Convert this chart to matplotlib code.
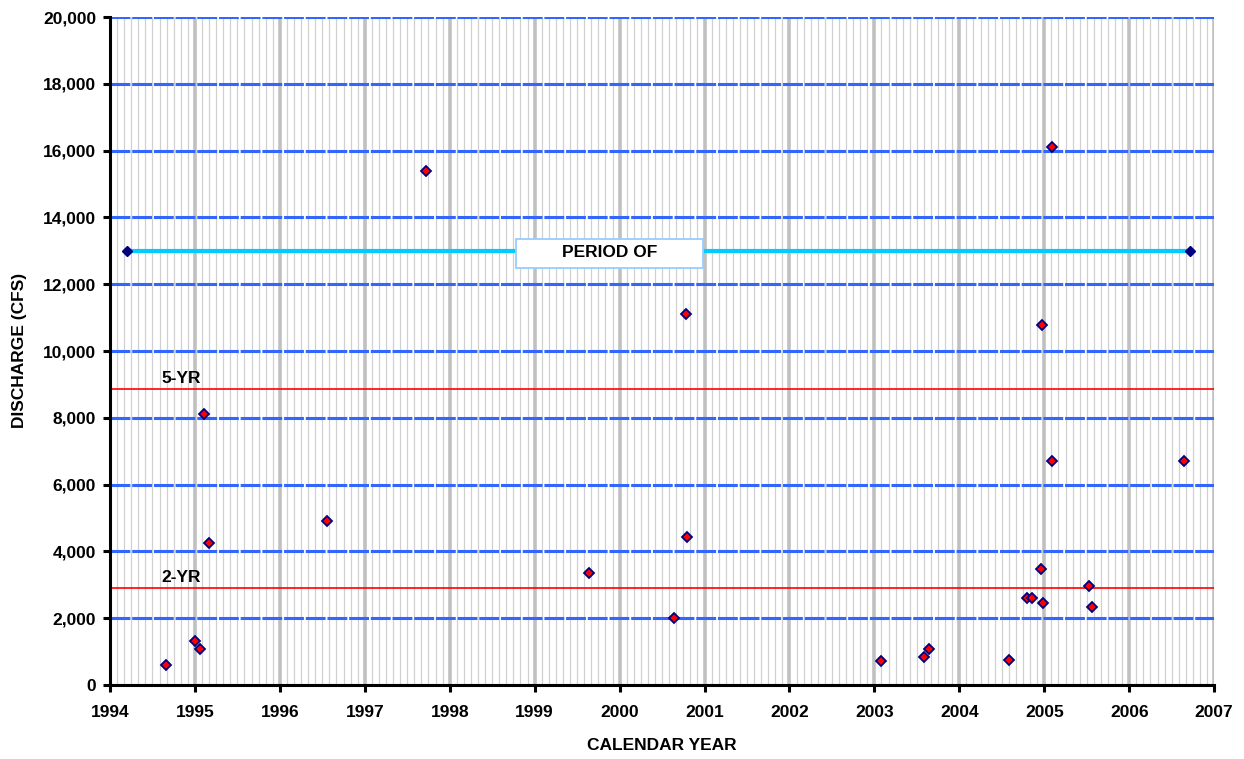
import matplotlib
matplotlib.use("Agg")
import matplotlib.pyplot as plt
from matplotlib.patches import Rectangle
from matplotlib.ticker import FuncFormatter

plt.rcParams['font.family'] = ['Liberation Sans', 'DejaVu Sans']

# Data
years = [1994.66, 1995.00, 1995.06, 1995.11, 1995.17, 1996.55, 1997.72, 1999.64,
         2000.64, 2000.78, 2000.79, 2003.08, 2003.58, 2003.64, 2004.59, 2004.80,
         2004.85, 2004.96, 2004.97, 2004.99, 2005.09, 2005.09, 2005.53, 2005.56,
         2006.65]
discharge = [600, 1330, 1070, 8110, 4260, 4920, 15390, 3360,
             2020, 11100, 4440, 720, 850, 1080, 750, 2600,
             2600, 3470, 10780, 2470, 16100, 6700, 2970, 2350,
             6700]
period_x = [1994.20, 2006.72]
period_y = [13000, 13000]
two_yr = 2900
five_yr = 8850
period_label = "PERIOD OF"
xticks = list(range(1994, 2008))
yticks = list(range(0, 20001, 2000))

FS = 12.5

fig = plt.figure(figsize=(12.44, 7.59), dpi=100)
ax = fig.add_axes([0.0884, 0.0975, 0.8876, 0.880])
ax.set_xlim(1994, 2007)
ax.set_ylim(0, 20000)

# minor monthly grid
for y0 in range(1994, 2007):
    for m in range(1, 12):
        ax.axvline(y0 + m / 12.0, color='#d0d0d0', lw=0.9, zorder=0.5)
# major yearly grid
for xt in xticks:
    ax.axvline(xt, color='#c0c0c0', lw=2.6, zorder=0.6)
# horizontal blue dashed grid
for yt in yticks:
    ax.axhline(yt, color='#3366ff', lw=2.2, dashes=(6.5, 0.6), zorder=0.8)

# return period lines
ax.axhline(two_yr, color='#ff0000', lw=1.2, zorder=1)
ax.axhline(five_yr, color='#ff0000', lw=1.2, zorder=1)
ax.text(1994.61, two_yr + 90, "2-YR", fontsize=FS, fontweight='bold', va='bottom', ha='left')
ax.text(1994.61, five_yr + 90, "5-YR", fontsize=FS, fontweight='bold', va='bottom', ha='left')

# period of record
ax.plot(period_x, period_y, color='#00ccff', lw=3, zorder=2)
ax.plot(period_x, period_y, ls='none', marker='D', ms=5.5, color='#000080', zorder=3)
ax.add_patch(Rectangle((1998.78, 12496), 2.20, 870, fc='white', ec='#99ccff', lw=1.3, zorder=4))
ax.text(1999.88, 12960, period_label, fontsize=FS, fontweight='bold', ha='center', va='center', zorder=5)

# points
ax.plot(years, discharge, ls='none', marker='D', ms=5.2, mfc='#ff0000', mec='#000080', mew=1.3, zorder=6)

ax.set_xticks(xticks)
ax.set_yticks(yticks)
ax.yaxis.set_major_formatter(FuncFormatter(lambda v, p: f"{int(v):,}"))
for lab in ax.get_xticklabels() + ax.get_yticklabels():
    lab.set_fontweight('bold')
ax.tick_params(axis='both', direction='out', length=5, width=2.2, labelsize=FS)
ax.tick_params(axis='x', pad=9.5)
ax.tick_params(axis='y', pad=5)

for s in ['top', 'right']:
    ax.spines[s].set_visible(False)
for s in ['left', 'bottom']:
    ax.spines[s].set_linewidth(2.2)
    ax.spines[s].set_zorder(7)

fig.text(0.532, 1 - 745 / 759, "CALENDAR YEAR", fontsize=FS, fontweight='bold', ha='center', va='center')
fig.text(20 / 1244, 1 - 350 / 759, "DISCHARGE (CFS)", fontsize=FS, fontweight='bold', ha='center',
         va='center', rotation=90)

fig.savefig("out.png", dpi=100)
